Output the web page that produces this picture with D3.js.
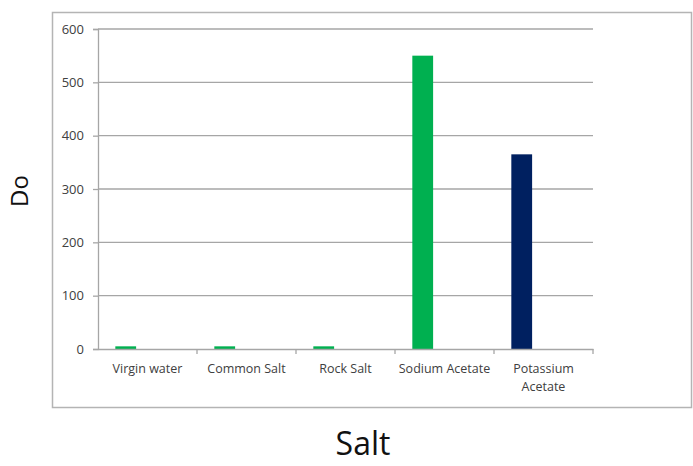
<!DOCTYPE html>
<html>
<head>
<meta charset="utf-8">
<script src="https://cdn.jsdelivr.net/npm/d3@7"></script>
<style>
  body { margin: 0; background: #fff; }
  svg text { font-family: "Open Sans", sans-serif; }
</style>
</head>
<body>
<script>
"use strict";

// chart data
var categories = ["Virgin water", "Common Salt", "Rock Salt", "Sodium Acetate", "Potassium Acetate"];
var values = [5, 5, 5, 550, 365];
var barColors = ["#00b050", "#00b050", "#00b050", "#00b050", "#002060"];
var yTicks = [0, 100, 200, 300, 400, 500, 600];

var width = 693, height = 466;
var plot = { left: 98, right: 593, top: 29, bottom: 349 };

var svg = d3.select("body").append("svg")
    .attr("width", width)
    .attr("height", height);

// outer chart frame
svg.append("rect")
    .attr("x", 52.5).attr("y", 12.5)
    .attr("width", 639).attr("height", 395)
    .attr("fill", "none")
    .attr("stroke", "#b4b4b4")
    .attr("stroke-width", 1.5);

var x = d3.scaleBand()
    .domain(categories)
    .range([plot.left, plot.right]);

var y = d3.scaleLinear()
    .domain([0, 600])
    .range([plot.bottom, plot.top]);

// gridlines
svg.append("g")
    .selectAll("line")
    .data(yTicks.slice(1))
    .enter()
      .append("line")
      .attr("x1", plot.left).attr("x2", plot.right)
      .attr("y1", function (d) { return y(d); })
      .attr("y2", function (d) { return y(d); })
      .attr("stroke", "#a6a6a6")
      .attr("stroke-width", 1.3);

// y axis
var yAxis = svg.append("g")
    .attr("transform", "translate(" + plot.left + ",0)")
    .call(d3.axisLeft(y).tickValues(yTicks).tickSize(5).tickPadding(9));
yAxis.select(".domain").attr("stroke", "#a6a6a6").attr("stroke-width", 1.3);
yAxis.selectAll(".tick line").attr("stroke", "#a6a6a6").attr("stroke-width", 1.3);
yAxis.selectAll(".tick text")
    .attr("fill", "#404040")
    .style("font-size", "13px");

// bars: first slot of each category, like a clustered column chart
var bw = x.bandwidth();
svg.append("g")
    .selectAll("rect")
    .data(categories)
    .enter()
      .append("rect")
      .attr("x", function (d) { return x(d) + bw * 0.175; })
      .attr("width", bw * 0.21)
      .attr("y", function (d, i) { return y(values[i]); })
      .attr("height", function (d, i) { return y(0) - y(values[i]); })
      .attr("fill", function (d, i) { return barColors[i]; });

// x axis
var xAxis = svg.append("g")
    .attr("transform", "translate(0," + plot.bottom + ")")
    .call(d3.axisBottom(x).tickSize(0).tickFormat(""));
xAxis.select(".domain").attr("stroke", "#a6a6a6").attr("stroke-width", 1.3);

// category separators
svg.append("g")
    .selectAll("line")
    .data(categories)
    .enter()
      .append("line")
      .attr("x1", function (d) { return x(d) + bw; })
      .attr("x2", function (d) { return x(d) + bw; })
      .attr("y1", plot.bottom).attr("y2", plot.bottom + 5)
      .attr("stroke", "#a6a6a6")
      .attr("stroke-width", 1.3);

// category labels, wrapped when too wide
svg.append("g")
    .selectAll("text")
    .data(categories)
    .enter()
      .append("text")
      .attr("text-anchor", "middle")
      .attr("fill", "#404040")
      .style("font-size", "12.5px")
      .each(function (d) {
          var t = d3.select(this);
          var lines = d === "Potassium Acetate" ? d.split(" ") : [d];
          lines.forEach(function (ln, k) {
              t.append("tspan")
                  .attr("x", x(d) + bw / 2)
                  .attr("y", plot.bottom + 24 + k * 18)
                  .text(ln);
          });
      });

// axis titles
svg.append("text")
    .attr("transform", "translate(28,191) rotate(-90)")
    .attr("text-anchor", "middle")
    .attr("fill", "#111")
    .style("font-size", "24px")
    .text("Do");

svg.append("text")
    .attr("x", 363)
    .attr("y", 455)
    .attr("text-anchor", "middle")
    .attr("fill", "#111")
    .style("font-size", "32px")
    .text("Salt");
</script>
</body>
</html>
